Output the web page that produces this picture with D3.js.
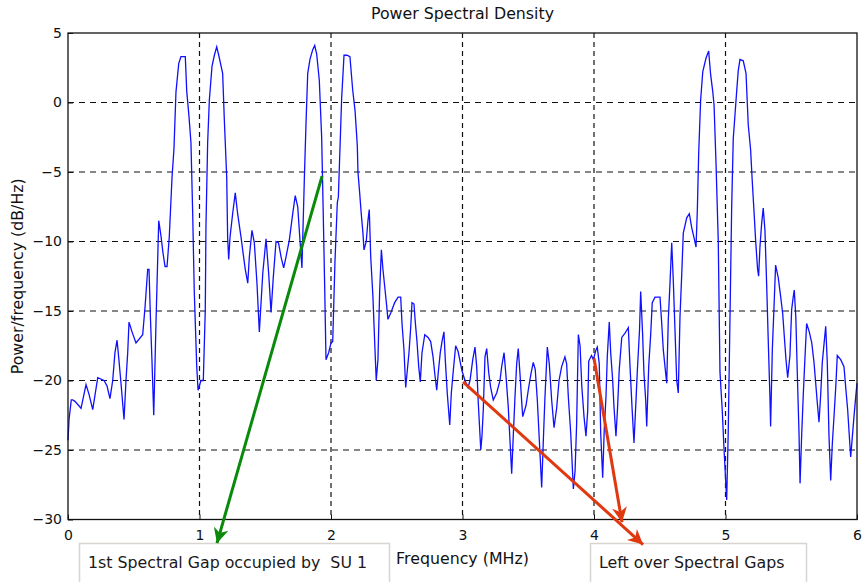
<!DOCTYPE html>
<html><head><meta charset="utf-8">
<script src="https://cdn.jsdelivr.net/npm/d3@7"></script>
<style>
html,body{margin:0;padding:0;background:#fff;}
svg{display:block;font-family:"DejaVu Sans",Verdana,sans-serif;}
</style></head>
<body><svg id="c" width="862" height="582"></svg>
<script>
const title = "Power Spectral Density";
const xLabel = "Frequency (MHz)";
const yLabel = "Power/frequency (dB/Hz)";
const xTicks = [0,1,2,3,4,5,6];
const yTicks = [-30,-25,-20,-15,-10,-5,0,5];

const freq = [
0.000,0.008,0.025,0.036,0.053,0.099,0.137,0.160,0.188,0.226,0.274,0.297,0.319,0.340,0.357,0.373,0.388,0.403,0.426,0.441,0.454,0.464,0.487,0.517,0.568,0.586,0.606,0.616,0.627,0.639,0.652,0.669,0.690,0.707,0.722,0.738,0.753,0.770,0.791,0.806,0.821,0.842,0.859,0.892,0.903,0.920,0.935,0.948,0.960,0.979,0.989,1.011,
1.029,1.044,1.049,1.062,1.075,1.095,1.113,1.131,1.151,1.176,1.189,1.207,1.214,1.222,1.232,1.252,1.272,1.290,1.316,1.331,1.348,1.367,1.379,1.399,1.417,1.437,1.455,1.481,1.506,1.526,1.544,1.561,1.582,1.601,1.620,1.640,1.658,1.683,1.709,1.728,1.747,1.764,1.779,1.797,1.810,1.823,1.840,1.861,1.876,1.891,1.911,1.929,1.941,1.952,1.962,1.982,2.000,
2.013,2.030,2.048,2.056,2.081,2.099,2.122,2.144,2.165,2.183,2.200,2.205,2.218,2.230,2.243,2.251,2.268,2.281,2.291,2.302,2.319,2.332,2.344,2.357,2.370,2.383,2.395,2.408,2.421,2.433,2.456,2.484,2.510,2.530,2.540,2.555,2.568,2.580,2.593,2.606,2.616,2.631,2.641,2.654,2.667,2.679,2.692,2.713,2.738,2.758,2.776,2.789,2.804,2.817,2.831,2.846,2.859,2.869,2.884,2.903,2.915,2.930,2.948,2.966,2.979,2.996,
3.019,3.042,3.057,3.078,3.095,3.108,3.120,3.139,3.148,3.158,3.171,3.184,3.199,3.214,3.234,3.260,3.285,3.298,3.316,3.331,3.348,3.361,3.374,3.386,3.399,3.412,3.424,3.437,3.450,3.458,3.483,3.500,3.519,3.538,3.553,3.569,3.589,3.602,3.614,3.627,3.645,3.660,3.678,3.696,3.716,3.734,3.754,3.779,3.792,3.805,3.823,3.843,3.856,3.868,3.881,3.894,3.907,3.924,3.939,3.952,3.960,3.981,
3.995,4.015,4.025,4.040,4.051,4.066,4.078,4.091,4.101,4.116,4.127,4.142,4.152,4.167,4.179,4.192,4.211,4.236,4.261,4.274,4.289,4.304,4.319,4.329,4.346,4.355,4.369,4.380,4.393,4.401,4.416,4.431,4.443,4.464,4.502,4.515,4.527,4.542,4.553,4.565,4.578,4.591,4.603,4.616,4.629,4.641,4.654,4.667,4.679,4.705,4.725,4.743,4.760,4.776,4.786,4.796,4.811,4.827,4.852,4.872,4.887,4.903,4.913,4.928,4.945,4.958,
4.975,4.988,5.009,5.021,5.034,5.047,5.059,5.072,5.085,5.097,5.110,5.135,5.156,5.173,5.191,5.203,5.216,5.229,5.244,5.252,5.262,5.275,5.287,5.300,5.313,5.325,5.338,5.343,5.356,5.371,5.381,5.401,5.420,5.435,5.447,5.460,5.473,5.490,5.503,5.515,5.523,5.535,5.546,5.559,5.567,5.579,5.592,5.605,5.617,5.637,5.656,5.673,5.686,5.698,5.711,5.724,5.736,5.749,5.762,5.774,5.787,5.800,5.812,5.827,5.840,5.850,5.876,5.901,5.916,5.929,5.941,5.952,5.965,5.977,5.990,6.000
];
const psd = [
-24.3,-22.8,-21.4,-21.4,-21.5,-22.0,-20.3,-21.0,-22.1,-19.8,-20.0,-20.4,-21.3,-20.0,-18.0,-17.1,-18.6,-20.2,-22.8,-20.0,-18.0,-15.8,-16.5,-17.3,-16.7,-14.7,-12.0,-12.0,-15.5,-18.7,-22.5,-15.9,-8.5,-9.6,-10.8,-11.8,-11.8,-9.7,-5.4,-3.3,0.75,2.8,3.3,3.3,0.8,-1.0,-2.9,-7.9,-13.5,-19.0,-20.7,-20.0,
-20.0,-14.9,-9.0,-2.9,0.2,2.6,3.4,4.0,3.2,2.1,-1.3,-5.4,-9.7,-11.3,-9.7,-8.0,-6.5,-8.0,-9.7,-10.8,-12.0,-13.0,-11.1,-9.2,-10.1,-13.0,-16.5,-12.3,-9.8,-12.3,-15.1,-12.6,-10.0,-10.1,-11.1,-11.9,-11.1,-9.9,-8.0,-6.7,-7.5,-9.9,-11.9,-5.6,-1.5,2.1,3.1,3.8,4.1,3.5,1.6,-2.5,-8.0,-13.3,-18.5,-18.0,-17.3,
-17.2,-11.5,-7.2,-6.8,0.3,3.4,3.4,3.3,0.9,-0.6,-3.1,-5.0,-6.5,-8.0,-9.4,-10.6,-10.0,-8.5,-7.7,-11.1,-14.0,-17.2,-20.0,-18.5,-13.6,-10.6,-12.0,-13.2,-14.4,-15.6,-15.1,-14.4,-14.0,-14.0,-15.9,-17.8,-20.5,-19.3,-18.0,-16.2,-14.4,-14.5,-15.8,-17.2,-19.0,-20.1,-18.0,-16.7,-16.9,-17.2,-18.3,-19.5,-20.7,-19.3,-18.0,-17.1,-16.5,-18.5,-20.9,-23.2,-20.9,-19.3,-17.5,-17.9,-18.5,-19.3,
-20.0,-20.5,-20.0,-18.5,-17.6,-19.0,-21.6,-25.0,-24.0,-22.1,-18.3,-17.7,-19.4,-20.5,-21.4,-20.9,-20.0,-19.0,-18.0,-19.7,-21.9,-24.3,-26.7,-24.0,-21.2,-18.8,-17.7,-19.5,-21.5,-22.6,-21.8,-20.7,-19.6,-18.7,-19.2,-21.4,-25.2,-27.7,-24.5,-21.2,-17.6,-18.8,-21.4,-23.4,-22.0,-20.0,-19.0,-18.3,-18.8,-21.2,-23.8,-27.8,-26.5,-23.1,-16.7,-17.5,-20.4,-22.6,-24.0,-22.2,-18.6,-18.2,
-18.5,-17.8,-17.6,-18.8,-23.8,-27.0,-23.5,-21.2,-18.3,-15.8,-18.0,-20.0,-21.9,-24.0,-22.0,-19.2,-16.9,-16.6,-16.2,-19.0,-21.9,-24.5,-21.5,-19.4,-16.4,-13.6,-16.5,-19.5,-21.4,-23.3,-19.0,-16.7,-14.4,-14.0,-14.0,-15.9,-17.8,-19.2,-20.2,-15.6,-13.0,-10.1,-12.8,-16.4,-20.0,-20.9,-15.4,-12.4,-9.4,-8.3,-8.0,-9.0,-9.7,-10.4,-7.7,-3.7,0.2,2.2,3.2,3.7,2.0,0.8,-0.2,-4.4,-10.0,-19.4,
-22.1,-24.8,-28.6,-23.6,-15.6,-7.5,-2.6,-0.9,0.8,2.3,3.1,3.0,2.1,-1.6,-3.4,-5.6,-7.7,-9.9,-12.0,-12.5,-10.4,-8.7,-7.6,-9.2,-13.1,-17.1,-21.2,-23.3,-17.8,-14.2,-11.7,-12.6,-14.0,-15.2,-16.8,-18.5,-19.8,-18.2,-14.9,-14.0,-13.5,-15.5,-19.5,-23.8,-27.4,-24.0,-20.9,-18.2,-15.9,-16.5,-17.3,-18.7,-20.2,-21.6,-23.0,-21.0,-18.7,-17.4,-16.1,-18.7,-24.0,-27.2,-24.6,-22.3,-20.2,-18.2,-18.5,-19.0,-20.7,-22.1,-23.9,-25.5,-24.0,-22.6,-21.2,-20.2
];

// annotation arrows in data units [x, y]
const arrowFrom = [[1.932,-5.3],[3.004,-20.1],[4.000,-18.4]];
const arrowTo   = [[1.133,-31.7],[4.373,-31.8],[4.213,-30.2]];
const arrowColor = ["#0a8a0a","#e0380f","#e0380f"];
const boxTexts = ["1st Spectral Gap occupied by  SU 1","Left over Spectral Gaps"];

const svg = d3.select("#c");
const L=68, R=857, T=33, B=519.5;
const x = d3.scaleLinear().domain([0,6]).range([L,R]);
const y = d3.scaleLinear().domain([-30,5]).range([B,T]);
const FONT = "DejaVu Sans, Verdana, sans-serif";
const FS = 15.8;

// grid
const g = svg.append("g");
g.selectAll(".vg").data(xTicks.slice(1,-1)).join("line")
 .attr("x1",d=>x(d)).attr("x2",d=>x(d)).attr("y1",T).attr("y2",B)
 .attr("stroke","#111").attr("stroke-width",1.2).attr("stroke-dasharray","5,4");
g.selectAll(".hg").data(yTicks.slice(1,-1)).join("line")
 .attr("y1",d=>y(d)).attr("y2",d=>y(d)).attr("x1",L).attr("x2",R)
 .attr("stroke","#111").attr("stroke-width",1.2).attr("stroke-dasharray","6,5");

// line
const line = d3.line().x((d,i)=>x(freq[i])).y(d=>y(d));
svg.append("path").datum(psd).attr("d",line)
 .attr("fill","none").attr("stroke","#1010ff").attr("stroke-width",1.3);

// axes box
svg.append("rect").attr("x",L).attr("y",T).attr("width",R-L).attr("height",B-T)
 .attr("fill","none").attr("stroke","#111").attr("stroke-width",1.3);

// axes ticks via d3 axis
const xa = svg.append("g").attr("transform",`translate(0,${B})`)
 .call(d3.axisBottom(x).tickValues(xTicks).tickFormat(d3.format("d")).tickSizeInner(-5).tickSizeOuter(0).tickPadding(11));
const ya = svg.append("g").attr("transform",`translate(${L},0)`)
 .call(d3.axisLeft(y).tickValues(yTicks).tickFormat(d3.format("d")).tickSizeInner(-5).tickSizeOuter(0).tickPadding(6));
[xa,ya].forEach(a=>{a.select(".domain").remove();
 a.selectAll("line").attr("stroke","#111");
 a.selectAll("text").attr("font-size",14).attr("fill","#111").attr("font-family",FONT);});

// title & labels
svg.append("text").attr("x",(L+R)/2).attr("y",19).attr("text-anchor","middle")
 .attr("font-size",FS).attr("fill","#111").text(title);
svg.append("text").attr("transform",`translate(23,${(T+B)/2}) rotate(-90)`).attr("text-anchor","middle")
 .attr("font-size",FS).attr("fill","#111").text(yLabel);
svg.append("text").attr("x",(L+R)/2).attr("y",564).attr("text-anchor","middle")
 .attr("font-size",FS).attr("fill","#111").text(xLabel);

// text boxes
const boxes = [{x:79,y:543,w:310,h:40},{x:590,y:543,w:216,h:40}];
boxes.forEach((b,i)=>{
 svg.append("rect").attr("x",b.x+0.5).attr("y",b.y+0.5).attr("width",b.w).attr("height",b.h)
  .attr("fill","#fff").attr("stroke","#d8d4d0").attr("stroke-width",1.5);
 svg.append("text").attr("x",b.x+9).attr("y",b.y+25).attr("font-size",FS).attr("fill","#201818")
  .attr("xml:space","preserve").style("white-space","pre").text(boxTexts[i]);
});

// arrows
const defs = svg.append("defs");
arrowColor.forEach((c,i)=>{
 defs.append("marker").attr("id","ah"+i).attr("viewBox","0 0 10 10").attr("refX",10).attr("refY",5)
  .attr("markerWidth",7).attr("markerHeight",5).attr("orient","auto").attr("markerUnits","strokeWidth")
  .append("path").attr("d","M0,0 L10,5 L0,10 L3,5 Z").attr("fill",c);
});
arrowFrom.forEach((f,i)=>{
 svg.append("line").attr("x1",x(f[0])).attr("y1",y(f[1])).attr("x2",x(arrowTo[i][0])).attr("y2",y(arrowTo[i][1]))
  .attr("stroke",arrowColor[i]).attr("stroke-width",3).attr("marker-end",`url(#ah${i})`);
});
</script></body></html>
